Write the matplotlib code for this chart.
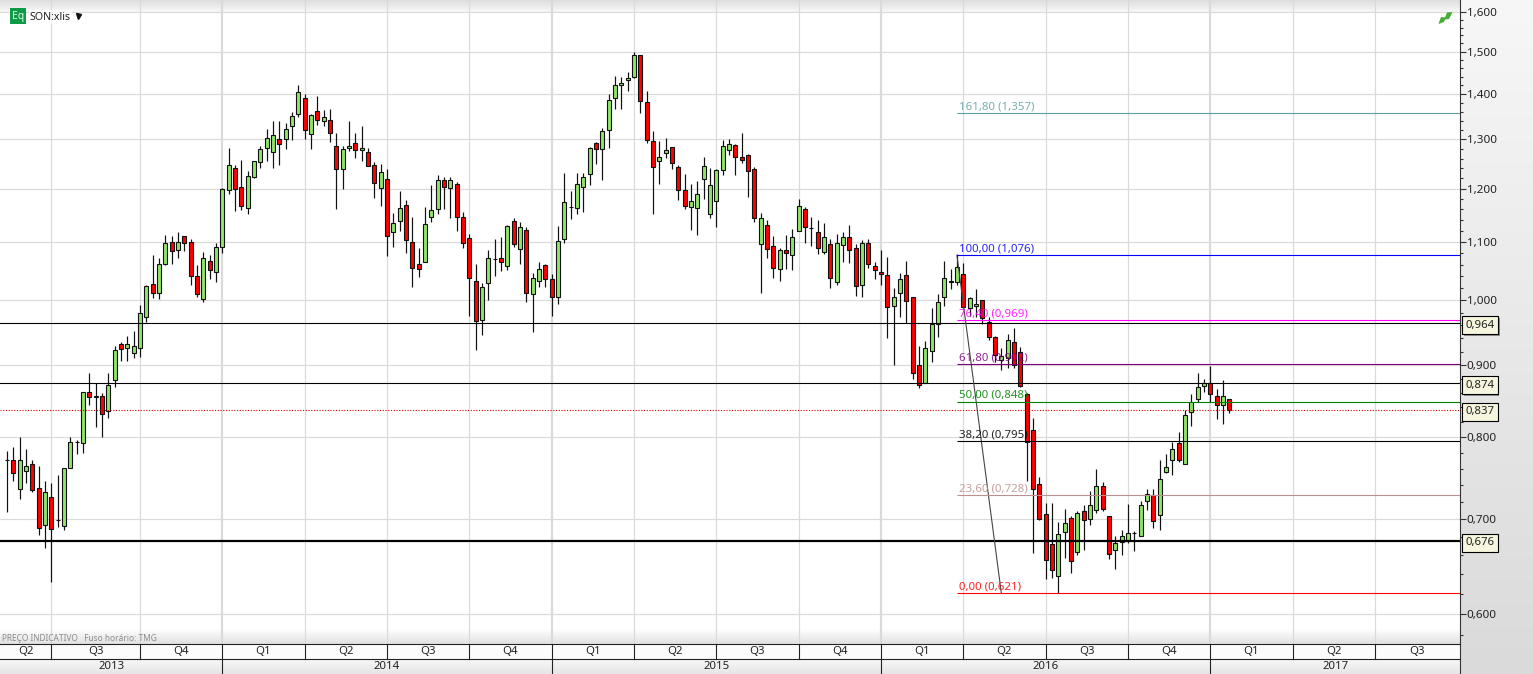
"""Weekly candlestick chart of SON:xlis with Fibonacci retracement levels"""

from matplotlib import pyplot, patches, patheffects
import numpy as np

WIDTH_PX, HEIGHT_PX = 1533, 674
AXIS_RIGHT_PX, AXIS_BOTTOM_PX = 1460, 644

OPENS = [
    .771, .771, .736, .757, .766, .737, .693, .726, .699, .692,
    .761, .794, .793, .862, .854, .856, .835, .879, .931, .926,
    .918, .926, .973, 1.027, 1.013, 1.062, 1.100, 1.086, 1.111, 1.100,
    1.041, 1.002, 1.067, 1.048, 1.091, 1.198, 1.241, 1.204, 1.162, 1.222,
    1.253, 1.282, 1.273, 1.300, 1.300, 1.329, 1.356, 1.391, 1.311, 1.362,
    1.340, 1.342, 1.286, 1.239, 1.282, 1.292, 1.278, 1.273, 1.247, 1.202,
    1.218, 1.118, 1.138, 1.168, 1.100, 1.062, 1.065, 1.146, 1.160, 1.216,
    1.202, 1.208, 1.146, 1.107, 1.033, .969, 1.029, 1.070, 1.072, 1.057,
    1.138, 1.087, 1.122, 1.010, 1.033, 1.060, 1.035, 1.005, 1.106, 1.165,
    1.162, 1.204, 1.228, 1.292, 1.280, 1.320, 1.391, 1.420, 1.432, 1.440,
    1.491, 1.382, 1.296, 1.255, 1.272, 1.284, 1.243, 1.198, 1.164, 1.162,
    1.218, 1.151, 1.175, 1.237, 1.278, 1.288, 1.263, 1.267, 1.239, 1.097,
    1.131, 1.092, 1.052, 1.085, 1.076, 1.120, 1.160, 1.125, 1.118, 1.083,
    1.097, 1.031, 1.095, 1.109, 1.090, 1.026, 1.098, 1.057, 1.047, 1.042,
    .991, 1.013, 1.042, 1.005, .900, .874, .921, .962, 1.006, 1.033,
    1.030, 1.044, .987, .991, 1.000, .965, .942, .908, .911, .934,
    .919, .859, .810, .741, .706, .672, .638, .686, .702, .664,
    .709, .700, .711, .739, .704, .666, .675, .677, .685, .681,
    .721, .728, .705, .756, .771, .793, .766, .834, .852, .870,
    .874, .856, .843, .851,
]
HIGHS = [
    .782, .787, .800, .785, .771, .764, .745, .743, .753, .761,
    .800, .797, .861, .889, .874, .860, .888, .928, .935, .944,
    .951, .993, 1.025, 1.076, 1.071, 1.113, 1.110, 1.118, 1.111, 1.105,
    1.060, 1.083, 1.076, 1.098, 1.202, 1.282, 1.247, 1.257, 1.235, 1.256,
    1.286, 1.322, 1.340, 1.340, 1.335, 1.360, 1.420, 1.400, 1.354, 1.396,
    1.364, 1.367, 1.313, 1.286, 1.340, 1.313, 1.329, 1.282, 1.253, 1.249,
    1.239, 1.153, 1.196, 1.177, 1.146, 1.090, 1.165, 1.206, 1.226, 1.222,
    1.222, 1.212, 1.155, 1.114, 1.062, 1.029, 1.085, 1.105, 1.109, 1.131,
    1.144, 1.137, 1.127, 1.045, 1.064, 1.061, 1.044, 1.129, 1.231, 1.196,
    1.231, 1.231, 1.284, 1.294, 1.325, 1.400, 1.441, 1.439, 1.451, 1.500,
    1.492, 1.407, 1.318, 1.296, 1.302, 1.285, 1.247, 1.228, 1.208, 1.214,
    1.263, 1.241, 1.239, 1.298, 1.300, 1.290, 1.313, 1.269, 1.243, 1.153,
    1.140, 1.110, 1.090, 1.113, 1.124, 1.180, 1.165, 1.146, 1.140, 1.134,
    1.105, 1.115, 1.118, 1.131, 1.097, 1.104, 1.105, 1.064, 1.085, 1.073,
    1.021, 1.045, 1.066, 1.006, .928, .936, .987, 1.011, 1.066, 1.053,
    1.078, 1.063, 1.006, 1.018, 1.001, .973, .944, .925, .947, .956,
    .927, .860, .825, .750, .719, .719, .697, .712, .704, .710,
    .716, .733, .760, .744, .704, .681, .688, .718, .687, .721,
    .736, .736, .771, .779, .794, .807, .837, .859, .888, .880,
    .898, .865, .878, .852,
]
LOWS = [
    .708, .745, .723, .743, .732, .682, .668, .632, .691, .688,
    .761, .778, .780, .843, .813, .800, .825, .869, .906, .906,
    .910, .912, .966, 1.004, 1.003, 1.060, 1.061, 1.071, 1.084, 1.026,
    1.005, .998, 1.035, 1.030, 1.080, 1.190, 1.157, 1.159, 1.151, 1.220,
    1.241, 1.255, 1.240, 1.247, 1.280, 1.298, 1.349, 1.301, 1.279, 1.332,
    1.328, 1.295, 1.160, 1.199, 1.276, 1.262, 1.256, 1.245, 1.181, 1.166,
    1.075, 1.091, 1.119, 1.080, 1.022, 1.039, 1.064, 1.136, 1.151, 1.160,
    1.144, 1.119, 1.089, .975, .923, .946, 1.000, 1.041, 1.049, 1.051,
    1.091, 1.062, .998, .950, 1.022, 1.022, .975, .995, 1.098, 1.141,
    1.151, 1.155, 1.207, 1.249, 1.216, 1.282, 1.367, 1.367, 1.406, 1.437,
    1.357, 1.292, 1.151, 1.209, 1.262, 1.239, 1.177, 1.160, 1.122, 1.113,
    1.179, 1.144, 1.127, 1.226, 1.267, 1.226, 1.250, 1.184, 1.136, 1.013,
    1.072, 1.038, 1.033, 1.052, 1.050, 1.120, 1.098, 1.092, 1.079, 1.079,
    1.020, 1.025, 1.065, 1.063, 1.008, 1.005, 1.055, 1.036, 1.026, .941,
    .900, .973, .964, .880, .867, .874, .905, .942, .991, 1.018,
    1.025, .988, .975, .974, .963, .937, .905, .893, .896, .896,
    .869, .745, .663, .699, .635, .636, .621, .657, .641, .660,
    .666, .694, .707, .710, .656, .646, .661, .674, .665, .681,
    .711, .690, .688, .755, .753, .769, .766, .815, .848, .862,
    .848, .824, .817, .832,
]
CLOSES = [
    .771, .755, .771, .763, .734, .690, .732, .689, .699, .761,
    .794, .794, .861, .854, .856, .831, .871, .923, .924, .932,
    .928, .980, 1.023, 1.013, 1.062, 1.098, 1.084, 1.100, 1.098, 1.041,
    1.010, 1.072, 1.050, 1.091, 1.200, 1.247, 1.200, 1.167, 1.224, 1.255,
    1.280, 1.304, 1.309, 1.290, 1.322, 1.351, 1.404, 1.320, 1.352, 1.342,
    1.349, 1.313, 1.239, 1.280, 1.286, 1.278, 1.282, 1.245, 1.210, 1.233,
    1.110, 1.134, 1.162, 1.104, 1.055, 1.052, 1.133, 1.158, 1.216, 1.204,
    1.216, 1.146, 1.098, 1.038, .967, 1.022, 1.071, 1.069, 1.064, 1.129,
    1.097, 1.127, 1.012, 1.038, 1.052, 1.035, 1.005, 1.102, 1.174, 1.165,
    1.208, 1.222, 1.282, 1.280, 1.318, 1.387, 1.420, 1.425, 1.437, 1.491,
    1.385, 1.298, 1.243, 1.263, 1.278, 1.251, 1.198, 1.166, 1.175, 1.189,
    1.245, 1.206, 1.237, 1.286, 1.290, 1.263, 1.257, 1.235, 1.143, 1.143,
    1.087, 1.055, 1.085, 1.080, 1.109, 1.166, 1.127, 1.125, 1.090, 1.109,
    1.038, 1.098, 1.109, 1.085, 1.024, 1.098, 1.062, 1.050, 1.044, .990,
    1.006, 1.035, .999, .889, .871, .925, .963, .997, 1.037, 1.030,
    1.056, .990, 1.004, .994, .971, .942, .915, .913, .937, .900,
    .870, .794, .735, .700, .655, .644, .684, .696, .654, .707,
    .699, .717, .739, .712, .662, .674, .681, .685, .685, .716,
    .729, .698, .747, .762, .785, .771, .830, .848, .869, .874,
    .859, .843, .856, .837,
]

# week index of the candle each quarter starts on
QUARTER_STARTS = [7, 21, 34, 47, 60, 73, 86, 99, 112, 125, 138, 151, 164, 177, 190, 203, 216]
QUARTER_LABELS = ["Q2", "Q3", "Q4", "Q1", "Q2", "Q3", "Q4", "Q1", "Q2", "Q3", "Q4",
                  "Q1", "Q2", "Q3", "Q4", "Q1", "Q2", "Q3"]
YEAR_STARTS = [34, 86, 138, 190]
YEAR_LABELS = ["2013", "2014", "2015", "2016", "2017"]

PRICE_TICKS = [.6, .7, .8, .9, 1.0, 1.1, 1.2, 1.3, 1.4, 1.5, 1.6]
PRICE_TICK_LABELS = ["0,600", "0,700", "0,800", "0,900", "1,000", "1,100", "1,200",
                     "1,300", "1,400", "1,500", "1,600"]

SUPPORT_PRICES = [.964, .874, .676]
SUPPORT_WIDTHS = [1.0, 1.0, 2.0]
LAST_PRICE = .837
BOXED_PRICES = [.964, .874, .837, .676]

FIB_LEVELS = ["161,80", "100,00", "76,40", "61,80", "50,00", "38,20", "23,60", "0,00"]
FIB_PRICES = [1.357, 1.076, .969, .902, .848, .795, .728, .621]
FIB_LABELS = ["1,357", "1,076", "0,969", "0,902", "0,848", "0,795", "0,728", "0,621"]
FIB_COLOURS = ["#5f9ea0", "#0000ff", "#ff00ff", "#800080", "#008000", "#000000", "#bc8f8f", "#ff0000"]
FIB_START_WEEK = 150
FIB_TREND_WEEKS = [150, 157]
FIB_TREND_PRICES = [1.076, .621]

FONT = "Noto Sans"
TEXT_COLOUR = "#222222"
GRID_COLOUR = "#dadada"
PX = 72 / 100  # one pixel in points


def _axes_y(py):
    """Pixel row of the picture as an axes fraction"""
    return 1 - py / AXIS_BOTTOM_PX


def _axes_x(px):
    """Pixel column of the picture as an axes fraction"""
    return px / AXIS_RIGHT_PX


def _ramp(top, bottom, rows):
    """Vertical grey ramp, as rows of RGB"""
    return np.linspace(top, bottom, rows)[:, None, None] / 255.0


def _draw_background(fig):
    """Paint the panels and the soft shading at the edges of the plot"""
    img = np.ones((HEIGHT_PX, WIDTH_PX, 3))
    img[:, AXIS_RIGHT_PX:] = _ramp(247, 218, HEIGHT_PX)
    img[:12, :AXIS_RIGHT_PX] = _ramp(222, 248, 12)
    img[628:644, :AXIS_RIGHT_PX] = _ramp(255, 226, 16)
    img[644:659, :AXIS_RIGHT_PX] = 0.99
    img[659:, :AXIS_RIGHT_PX] = _ramp(247, 230, HEIGHT_PX - 659)
    bg = fig.add_axes([0, 0, 1, 1], zorder=-1)
    bg.imshow(img, aspect="auto", interpolation="nearest")
    bg.axis("off")


def _draw_candles(ax):
    weeks = np.arange(len(OPENS))
    opens, closes = np.array(OPENS), np.array(CLOSES)
    ax.vlines(weeks, LOWS, HIGHS, color="#111111", lw=1.2 * PX, zorder=3)
    colours = np.where(closes > opens, "#90e468", "#ff0000")
    doji = opens == closes
    colours[doji] = "#111111"
    ax.bar(weeks, np.abs(closes - opens), bottom=np.minimum(opens, closes), width=0.66,
           color=colours, edgecolor="#111111", linewidth=1.1 * PX, zorder=4)


def _draw_price_lines(ax):
    for price, lw in zip(SUPPORT_PRICES, SUPPORT_WIDTHS):
        ax.axhline(price, color="black", lw=lw * PX * 1.1, zorder=5)
    ax.axhline(LAST_PRICE, color="#e00000", lw=1.1 * PX, ls=(0, (1, 1.5)), zorder=5)

    for price in BOXED_PRICES:
        label = f"{price:.3f}".replace(".", ",")
        text = ax.annotate(label, xy=(1, price), xycoords=ax.get_yaxis_transform(), xytext=(3.8, -1.5),
                           textcoords="offset points", va="center", ha="left", fontsize=8.2, family=FONT,
                           color=TEXT_COLOUR, annotation_clip=False, zorder=8,
                           bbox=dict(boxstyle="square,pad=0.3", fc="#f6f6de", ec="black", lw=0.8))
        text.get_bbox_patch().set_path_effects([
            patheffects.SimplePatchShadow(offset=(1.2, -1.2), shadow_rgbFace="#777777", alpha=0.8),
            patheffects.Normal()])


def _draw_fibonacci(ax):
    right = ax.get_xlim()[1]
    ax.plot(FIB_TREND_WEEKS, FIB_TREND_PRICES, color="#444444", lw=1.1 * PX, zorder=5)
    for level, price, label, colour in zip(FIB_LEVELS, FIB_PRICES, FIB_LABELS, FIB_COLOURS):
        ax.plot([FIB_START_WEEK, right], [price, price], color=colour, lw=1.1 * PX, zorder=5,
                solid_capstyle="butt")
        ax.annotate(f"{level} ({label})", xy=(FIB_START_WEEK, price), xytext=(1.2, 0.5),
                    textcoords="offset points", va="bottom", ha="left", fontsize=8.25, family=FONT,
                    color=colour, alpha=0.85, zorder=6)


def _draw_time_axis(ax):
    left, right = ax.get_xlim()
    trans = ax.get_xaxis_transform()
    row1, row2, row3 = _axes_y(644), _axes_y(659), _axes_y(674)

    for x in QUARTER_STARTS:
        is_year = x in YEAR_STARTS
        ax.axvline(x, color=GRID_COLOUR, lw=(2.2 if is_year else 1.2) * PX, zorder=1)
        ax.plot([x, x], [row1, row2], transform=trans, clip_on=False, color="#222222", lw=1.1 * PX)
    for x in YEAR_STARTS:
        ax.plot([x, x], [row2, row3], transform=trans, clip_on=False, color="#222222", lw=1.1 * PX)
    ax.plot([0, 1], [row2, row2], transform=ax.transAxes, clip_on=False, color="#222222", lw=1.1 * PX)

    edges = [left] + QUARTER_STARTS + [right]
    for a, b, label in zip(edges, edges[1:], QUARTER_LABELS):
        ax.text((a + b) / 2, _axes_y(651.5), label, transform=trans, ha="center", va="center",
                fontsize=8.2, family=FONT, color=TEXT_COLOUR, clip_on=False)
    edges = [left] + YEAR_STARTS + [right]
    for a, b, label in zip(edges, edges[1:], YEAR_LABELS):
        ax.text((a + b) / 2, _axes_y(666.5), label, transform=trans, ha="center", va="center",
                fontsize=8.2, family=FONT, color=TEXT_COLOUR, clip_on=False)


def _draw_decorations(ax):
    t = ax.transAxes
    ax.add_patch(patches.Rectangle((_axes_x(10), _axes_y(24)), 16 / AXIS_RIGHT_PX, 16 / AXIS_BOTTOM_PX,
                                   transform=t, fc="#0d9b47", ec="none", zorder=8))
    ax.text(_axes_x(18), _axes_y(16), "Eq", transform=t, ha="center", va="center", fontsize=7.5,
            family=FONT, color="#e8f5ec", zorder=9)
    ax.text(_axes_x(30), _axes_y(17), "SON:xlis", transform=t, ha="left", va="center", fontsize=7.6,
            family=FONT, color=TEXT_COLOUR, zorder=9,
            bbox=dict(fc="white", ec="none", alpha=0.7, pad=1))
    ax.plot([_axes_x(78)], [_axes_y(15.5)], marker="v", ms=3.6, color="#111111", transform=t, zorder=9)

    arrow_px = [(1438.5, 24), (1441, 17), (1445, 17.5), (1447, 12.5), (1452.5, 12), (1449, 19), (1445, 19.5), (1444, 22)]
    arrow = [(_axes_x(x), _axes_y(y)) for x, y in arrow_px]
    ax.add_patch(patches.Polygon(arrow, closed=True, transform=t, fc="#45ad32", ec="none", zorder=8))

    ax.text(_axes_x(2), _axes_y(638.5), "PREÇO INDICATIVO   Fuso horário: TMG", transform=t, ha="left",
            va="center", fontsize=6.0, family=FONT, color="#8c8c8c", zorder=9)


def main():
    fig = pyplot.figure(figsize=(WIDTH_PX / 100, HEIGHT_PX / 100), dpi=100)
    _draw_background(fig)

    ax = fig.add_axes([0, (HEIGHT_PX - AXIS_BOTTOM_PX) / HEIGHT_PX, AXIS_RIGHT_PX / WIDTH_PX,
                       AXIS_BOTTOM_PX / HEIGHT_PX])
    ax.patch.set_alpha(0)

    ax.set_yscale("log")
    ax.set_ylim(0.5713, 1.6316)
    ax.set_xlim(-1.1, 229.43)

    ax.set_yticks(PRICE_TICKS, labels=PRICE_TICK_LABELS)
    ax.set_yticks(np.round(np.arange(.58, 1.62, .02), 2), minor=True)
    ax.yaxis.tick_right()
    ax.yaxis.set_tick_params(which="major", length=4.0, width=0.8, color="#333333", pad=0.8,
                             labelsize=8.4, labelcolor=TEXT_COLOUR)
    ax.yaxis.set_tick_params(which="minor", length=2.4, width=0.8, color="#333333", labelright=False,
                             labelleft=False)
    for label in ax.get_yticklabels():
        label.set_family(FONT)
    ax.set_xticks([])
    ax.grid(True, axis="y", which="major", color=GRID_COLOUR, lw=1.2 * PX, zorder=1)
    ax.set_axisbelow(True)

    for side in ["top", "left", "bottom"]:
        ax.spines[side].set_visible(False)
    ax.spines["right"].set_color("#333333")
    ax.spines["right"].set_linewidth(1.1 * PX)

    _draw_time_axis(ax)
    ax.plot([1, 1], [_axes_y(644), _axes_y(674)], transform=ax.transAxes, clip_on=False, color="#333333", lw=1.1 * PX)
    ax.plot([0, 1], [0, 0], transform=ax.transAxes, clip_on=False, color="#222222", lw=1.1 * PX)
    _draw_candles(ax)
    _draw_price_lines(ax)
    _draw_fibonacci(ax)
    _draw_decorations(ax)

    fig.savefig("out.png", dpi=100)


if __name__ == "__main__":
    main()
